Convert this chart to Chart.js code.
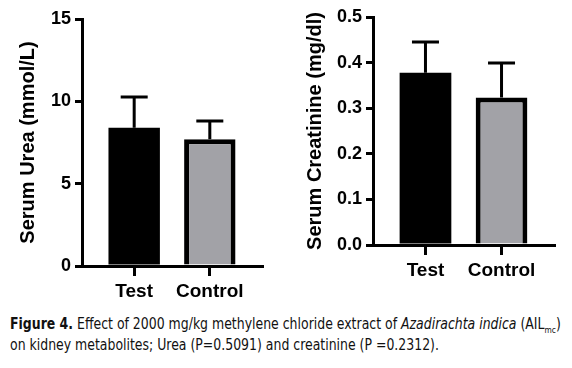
<!DOCTYPE html>
<html>
<head>
<meta charset="utf-8">
<script src="https://cdn.jsdelivr.net/npm/chart.js@4.4.1/dist/chart.umd.min.js"></script>
<style>
  html, body { margin: 0; padding: 0; background: #fff; }
  body { width: 572px; height: 368px; position: relative; overflow: hidden; }
  #c1 { position: absolute; left: 0; top: 0; }
  #c2 { position: absolute; left: 290px; top: 0; }
  #caption {
    position: absolute; left: 10px; top: 314px;
    font-family: "DejaVu Sans Condensed", "DejaVu Sans", sans-serif;
    font-stretch: condensed;
    font-size: 15px; line-height: 21px; color: #111; white-space: nowrap;
    transform: scaleX(0.925); transform-origin: 0 0;
  }
  #caption sub { font-size: 9px; vertical-align: -4px; line-height: 0; }
</style>
</head>
<body>
<canvas id="c1" width="290" height="305"></canvas>
<canvas id="c2" width="282" height="305"></canvas>
<div id="caption"><b>Figure 4.</b> Effect of 2000 mg/kg methylene chloride extract of <i>Azadirachta indica</i> (AIL<sub>mc</sub>)<br>on kidney metabolites; Urea (P=0.5091) and creatinine (P =0.2312).</div>
<script>
// ---- data ----
const categories = ['Test', 'Control'];
const ureaMeans = [8.39, 7.70];
const ureaErrors = [1.87, 1.11];
const creatMeans = [0.378, 0.3235];
const creatErrors = [0.067, 0.0755];
const ureaTicks = [0, 5, 10, 15];
const creatTicks = [0, 0.1, 0.2, 0.3, 0.4, 0.5];
const barColors = ['#000000', '#a2a2a7'];

const errorBarPlugin = {
  id: 'errorBars',
  afterDatasetsDraw(chart, args, opts) {
    const ctx = chart.ctx;
    const xs = chart.scales.x, ys = chart.scales.y;
    const means = opts.means, errs = opts.errors;
    ctx.save();
    ctx.strokeStyle = '#000';
    ctx.lineWidth = 3;
    ctx.lineCap = 'butt';
    means.forEach((m, i) => {
      const x = xs.getPixelForValue(i);
      const yb = ys.getPixelForValue(m);
      const yt = ys.getPixelForValue(m + errs[i]);
      ctx.beginPath();
      ctx.moveTo(x, yb);
      ctx.lineTo(x, yt);
      ctx.moveTo(x - 13.5, yt);
      ctx.lineTo(x + 13.5, yt);
      ctx.stroke();
    });
    ctx.restore();
  }
};

function makeChart(id, means, errors, yTicks, yTitle, cfg) {
  const data = means.map((v, i) => ({ x: i, y: v }));
  return new Chart(document.getElementById(id), {
    type: 'bar',
    data: {
      datasets: [{
        data: data,
        backgroundColor: barColors,
        borderColor: '#000',
        borderWidth: [0, 5],
        borderSkipped: 'start',
        categoryPercentage: 1,
        barPercentage: 0.68
      }]
    },
    plugins: [errorBarPlugin],
    options: {
      responsive: false,
      animation: false,
      devicePixelRatio: 1,
      layout: { padding: { left: 0, right: cfg.padRight, top: cfg.padTop, bottom: 0 } },
      plugins: {
        legend: { display: false },
        tooltip: { enabled: false },
        errorBars: { means: means, errors: errors }
      },
      scales: {
        x: {
          type: 'linear',
          offset: false,
          min: -0.69,
          max: 1.69,
          afterBuildTicks: (s) => { s.ticks = categories.map((c, i) => ({ value: i })); },
          afterFit: (s) => { s.height = cfg.xHeight; },
          ticks: {
            callback: (v) => categories[v],
            color: '#000',
            font: { family: 'Liberation Sans, Arial, sans-serif', size: 19, weight: 'bold' },
            padding: 4,
            maxRotation: 0,
            autoSkip: false
          },
          grid: {
            offset: false,
            display: true,
            drawOnChartArea: false,
            drawTicks: true,
            tickLength: 10,
            color: '#000',
            lineWidth: 3
          },
          border: { display: true, color: '#000', width: 3 }
        },
        y: {
          min: yTicks[0],
          max: yTicks[yTicks.length - 1],
          afterBuildTicks: (s) => { s.ticks = yTicks.map(v => ({ value: v })); },
          afterFit: (s) => { s.width = cfg.yWidth; },
          ticks: {
            callback: (v) => cfg.fmt(v),
            color: '#000',
            font: { family: 'Liberation Sans, Arial, sans-serif', size: 18, weight: 'bold' },
            padding: 4
          },
          grid: {
            display: true,
            drawOnChartArea: false,
            drawTicks: true,
            tickLength: 7,
            color: '#000',
            lineWidth: 3
          },
          border: { display: true, color: '#000', width: 3 },
          title: {
            display: true,
            text: yTitle,
            color: '#000',
            font: { family: 'Liberation Sans, Arial, sans-serif', size: 20, weight: 'bold' },
            padding: { top: cfg.titlePad, bottom: 0 }
          }
        }
      }
    }
  });
}

makeChart('c1', ureaMeans, ureaErrors, ureaTicks, 'Serum Urea (mmol/L)',
  { padRight: 28, padTop: 19, xHeight: 39, yWidth: 82, titlePad: 16, fmt: v => String(v) });
makeChart('c2', creatMeans, creatErrors, creatTicks, 'Serum Creatinine (mg/dl)',
  { padRight: 18, padTop: 17, xHeight: 60, yWidth: 83, titlePad: 13, fmt: v => v.toFixed(1) });
</script>
</body>
</html>
